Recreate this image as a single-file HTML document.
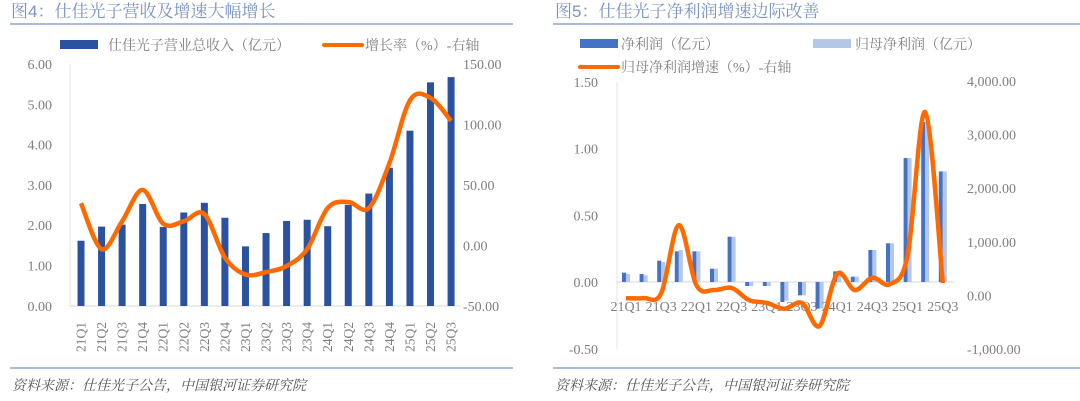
<!DOCTYPE html>
<html><head><meta charset="utf-8"><style>
body{margin:0;background:#fff;width:1080px;height:401px;overflow:hidden}
svg{display:block}
text{font-family:"Liberation Serif","Noto Serif CJK SC",serif;fill:#7f7f7f}
.t{font-family:"Liberation Sans","Noto Serif CJK SC",serif;fill:#7b93c6;font-size:17px}
.f{font-family:"Liberation Serif","Noto Serif CJK SC",serif;fill:#555;font-size:14px;font-style:italic}
</style></head><body>
<svg id="s" width="1080" height="401" xmlns="http://www.w3.org/2000/svg">
<text class="t" x="11" y="17">图4：仕佳光子营收及增速大幅增长</text>
<line x1="10" y1="24" x2="513" y2="24" stroke="#8ea2d0" stroke-width="1.5"/>
<text class="t" x="555" y="17">图5：仕佳光子净利润增速边际改善</text>
<line x1="553" y1="24" x2="1080" y2="24" stroke="#8ea2d0" stroke-width="1.5"/>
<line x1="10" y1="368" x2="513" y2="368" stroke="#8ea2d0" stroke-width="1.5"/>
<line x1="553" y1="368" x2="1080" y2="368" stroke="#8ea2d0" stroke-width="1.5"/>
<text class="f" x="12" y="390">资料来源：仕佳光子公告，中国银河证券研究院</text>
<text class="f" x="555" y="390">资料来源：仕佳光子公告，中国银河证券研究院</text>
<rect x="60" y="40" width="38" height="9" fill="#2b52a0"/>
<text x="108" y="50" font-size="14">仕佳光子营业总收入（亿元）</text>
<line x1="324" y1="45" x2="362" y2="45" stroke="#ff6a00" stroke-width="4" stroke-linecap="round"/>
<text x="365" y="50" font-size="14">增长率（%）-右轴</text>
<rect x="580" y="39" width="38" height="9" fill="#4472c4"/>
<text x="621" y="49" font-size="14">净利润（亿元）</text>
<rect x="813" y="39" width="38" height="9" fill="#b4c7e7"/>
<text x="855" y="49" font-size="14">归母净利润（亿元）</text>
<line x1="580" y1="67" x2="618" y2="67" stroke="#ff6a00" stroke-width="4" stroke-linecap="round"/>
<text x="621" y="72" font-size="14">归母净利润增速（%）-右轴</text>
<g id="g"></g>
</svg>
<script>
var g=document.getElementById('g'),h='';
function cr(p){var d='M'+p[0][0]+','+p[0][1];for(var i=0;i<p.length-1;i++){var a=p[i-1]||p[i],b=p[i],c=p[i+1],e=p[i+2]||c;
d+=' C'+(b[0]+(c[0]-a[0])/6)+','+(b[1]+(c[1]-a[1])/6)+' '+(c[0]-(e[0]-b[0])/6)+','+(c[1]-(e[1]-b[1])/6)+' '+c[0]+','+c[1];}return d;}
h+='<line x1="70" y1="64" x2="70" y2="306" stroke="#e6e6e6"/><line x1="70" y1="306" x2="460" y2="306" stroke="#d9d9d9"/>';
var L=['6.00','5.00','4.00','3.00','2.00','1.00','0.00'];
for(var i=0;i<7;i++){h+='<text x="52" y="'+(69+i*40.3)+'" font-size="14" text-anchor="end">'+L[i]+'</text>';}
var R=['150.00','100.00','50.00','0.00','-50.00'];
for(i=0;i<5;i++){h+='<text x="463" y="'+(69+i*60.5)+'" font-size="14">'+R[i]+'</text>';}
var q=['21Q1','21Q2','21Q3','21Q4','22Q1','22Q2','22Q3','22Q4','23Q1','23Q2','23Q3','23Q4','24Q1','24Q2','24Q3','24Q4','25Q1','25Q2','25Q3'];
var v=[1.62,1.97,2.02,2.53,1.96,2.32,2.56,2.19,1.48,1.81,2.11,2.14,1.98,2.51,2.79,3.43,4.35,5.55,5.68];
var gr=[35,-3,20,46,18,20,26,-10,-24,-22,-17,-3,31,36,31,68,120,122,103];
var p=[];
for(i=0;i<19;i++){var x=81+i*20.56,y=306-v[i]*40.3;h+='<rect x="'+(x-3.5)+'" y="'+y+'" width="7" height="'+(306-y)+'" fill="#2b52a0"/>';
h+='<text transform="translate('+(x+4.5)+',352) rotate(-90)" font-size="13.5">'+q[i]+'</text>';
p.push([x,306-(gr[i]+50)*1.21]);}
h+='<path d="'+cr(p)+'" fill="none" stroke="#ff6a00" stroke-width="4.5"/>';
var z=282,u=133.3;
h+='<line x1="617" y1="82" x2="617" y2="349" stroke="#e6e6e6"/><line x1="617" y1="282" x2="954" y2="282" stroke="#d9d9d9"/>';
var L2=['1.50','1.00','0.50','0.00','-0.50'];
for(i=0;i<5;i++){h+='<text x="598" y="'+(87+i*66.7)+'" font-size="14" text-anchor="end">'+L2[i]+'</text>';}
var R2=['4,000.00','3,000.00','2,000.00','1,000.00','0.00','-1,000.00'];
for(i=0;i<6;i++){h+='<text x="'+(i==5?967:967)+'" y="'+(86+i*53.6)+'" font-size="14">'+R2[i]+'</text>';}
var a=[0.07,0.06,0.16,0.23,0.23,0.10,0.34,-0.03,-0.03,-0.15,-0.10,-0.20,0.08,0.04,0.24,0.29,0.93,1.20,0.83];
var b=[0.06,0.05,0.15,0.24,0.23,0.10,0.34,-0.03,-0.03,-0.14,-0.10,-0.20,0.08,0.04,0.24,0.29,0.93,1.20,0.83];
var g2=[-50,-50,40,1310,190,100,140,-90,-140,-250,-140,-570,400,100,330,210,750,3420,230];
p=[];
for(i=0;i<19;i++){var c=626+i*17.6;
var y1=z-a[i]*u;h+='<rect x="'+(c-4)+'" y="'+Math.min(y1,z)+'" width="4" height="'+Math.abs(z-y1)+'" fill="#4472c4"/>';
var y2=z-b[i]*u;h+='<rect x="'+c+'" y="'+Math.min(y2,z)+'" width="4" height="'+Math.abs(z-y2)+'" fill="#b4c7e7"/>';
if(i%2==0)h+='<text x="'+c+'" y="311" font-size="14" text-anchor="middle">'+q[i]+'</text>';
p.push([c,295.4-g2[i]*0.0536]);}
h+='<path d="'+cr(p)+'" fill="none" stroke="#ff6a00" stroke-width="4.5"/>';
g.innerHTML=h;
</script>
</body></html>
